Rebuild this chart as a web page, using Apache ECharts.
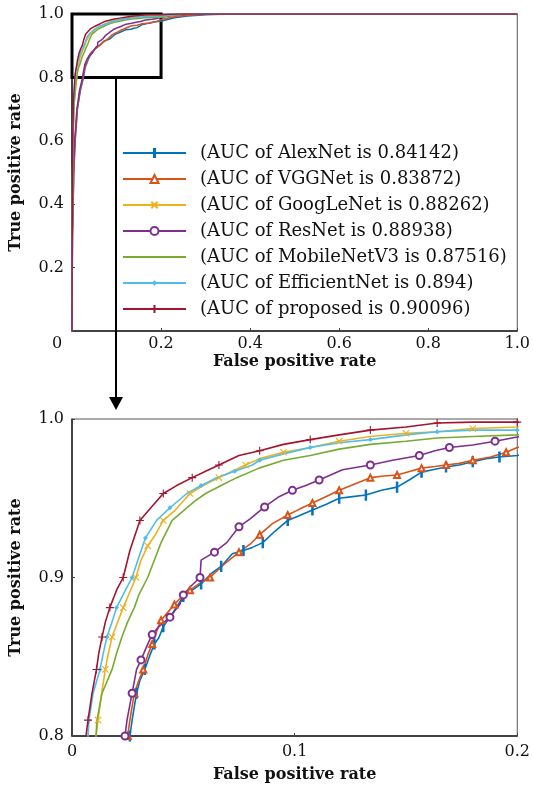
<!DOCTYPE html>
<html>
<head>
<meta charset="utf-8">
<script src="https://cdn.jsdelivr.net/npm/echarts@6/dist/echarts.min.js"></script>
<style>
  html, body { margin: 0; padding: 0; background: #fff; }
  #chart { width: 533px; height: 789px; }
</style>
</head>
<body>
<div id="chart"></div>
<script>
// ROC points [fpr, tpr]
const alexnet = [[0,0],[0.001,0.3],[0.004,0.5],[0.007,0.6],[0.012,0.7],[0.019,0.76],[0.026,0.8],[0.027,0.81],[0.029,0.827],[0.0305,0.835],[0.0327,0.842],[0.035,0.851],[0.037,0.858],[0.039,0.862],[0.041,0.869],[0.045,0.877],[0.05,0.888],[0.055,0.893],[0.058,0.896],[0.063,0.903],[0.067,0.907],[0.072,0.915],[0.077,0.917],[0.081,0.919],[0.0857,0.922],[0.091,0.929],[0.0969,0.936],[0.102,0.939],[0.108,0.9426],[0.114,0.946],[0.12,0.95],[0.126,0.951],[0.132,0.952],[0.139,0.955],[0.146,0.957],[0.152,0.962],[0.157,0.9665],[0.162,0.968],[0.168,0.9697],[0.174,0.971],[0.18,0.973],[0.186,0.975],[0.192,0.976],[0.2,0.977],[0.21,0.981],[0.23,0.988],[0.26,0.994],[0.3,0.998],[0.35,1],[1,1]];
const vggnet = [[0,0],[0.001,0.3],[0.004,0.5],[0.007,0.6],[0.012,0.7],[0.018,0.76],[0.025,0.8],[0.026,0.81],[0.028,0.827],[0.03,0.835],[0.032,0.842],[0.034,0.851],[0.036,0.858],[0.038,0.866],[0.04,0.873],[0.043,0.878],[0.046,0.883],[0.05,0.889],[0.053,0.892],[0.057,0.896],[0.062,0.9],[0.068,0.908],[0.075,0.916],[0.08,0.921],[0.0843,0.927],[0.09,0.934],[0.0969,0.9394],[0.102,0.943],[0.108,0.947],[0.114,0.951],[0.12,0.955],[0.127,0.959],[0.134,0.963],[0.14,0.964],[0.146,0.9647],[0.152,0.967],[0.157,0.969],[0.163,0.97],[0.168,0.971],[0.174,0.972],[0.18,0.974],[0.188,0.976],[0.195,0.979],[0.2,0.982],[0.21,0.986],[0.23,0.991],[0.26,0.996],[0.3,0.999],[0.35,1],[1,1]];
const googlenet = [[0,0],[0.0005,0.3],[0.002,0.6],[0.005,0.72],[0.009,0.78],[0.0108,0.8],[0.0117,0.81],[0.0133,0.827],[0.015,0.842],[0.016,0.85],[0.018,0.8625],[0.02,0.87],[0.023,0.881],[0.026,0.891],[0.0287,0.9],[0.031,0.911],[0.034,0.92],[0.037,0.926],[0.041,0.936],[0.046,0.942],[0.053,0.953],[0.059,0.958],[0.066,0.963],[0.072,0.967],[0.078,0.971],[0.0843,0.975],[0.095,0.979],[0.107,0.982],[0.12,0.986],[0.134,0.989],[0.15,0.991],[0.164,0.992],[0.18,0.994],[0.2,0.995],[0.22,0.998],[0.25,1],[1,1]];
const resnet = [[0,0],[0.0008,0.3],[0.003,0.5],[0.006,0.6],[0.011,0.7],[0.017,0.76],[0.0238,0.8],[0.0247,0.81],[0.027,0.827],[0.029,0.842],[0.031,0.848],[0.034,0.858],[0.036,0.864],[0.039,0.869],[0.044,0.875],[0.0484,0.883],[0.05,0.889],[0.053,0.894],[0.0575,0.9],[0.058,0.911],[0.064,0.916],[0.0695,0.922],[0.075,0.932],[0.08,0.937],[0.0865,0.9445],[0.093,0.951],[0.099,0.955],[0.105,0.958],[0.111,0.9615],[0.1215,0.968],[0.134,0.971],[0.144,0.974],[0.156,0.977],[0.163,0.98],[0.1695,0.982],[0.18,0.9836],[0.19,0.986],[0.2,0.9886],[0.21,0.992],[0.23,0.996],[0.26,0.999],[0.3,1],[1,1]];
const mobilenet = [[0,0],[0.0005,0.3],[0.002,0.6],[0.005,0.72],[0.009,0.78],[0.0108,0.8],[0.0112,0.81],[0.0135,0.827],[0.018,0.842],[0.02,0.852],[0.0224,0.8625],[0.025,0.872],[0.028,0.881],[0.03,0.889],[0.034,0.9],[0.037,0.911],[0.04,0.922],[0.045,0.936],[0.05,0.942],[0.055,0.948],[0.06,0.953],[0.067,0.958],[0.074,0.963],[0.084,0.969],[0.095,0.974],[0.107,0.977],[0.12,0.981],[0.134,0.984],[0.15,0.986],[0.164,0.988],[0.18,0.989],[0.2,0.99],[0.22,0.995],[0.25,0.999],[0.28,1],[1,1]];
const efficientnet = [[0,0],[0.0005,0.3],[0.002,0.6],[0.004,0.72],[0.0065,0.78],[0.0072,0.8],[0.0076,0.81],[0.0095,0.827],[0.0126,0.842],[0.014,0.852],[0.0157,0.8625],[0.018,0.872],[0.02,0.881],[0.024,0.892],[0.027,0.9],[0.0296,0.911],[0.033,0.925],[0.038,0.936],[0.044,0.944],[0.0516,0.953],[0.058,0.958],[0.065,0.963],[0.073,0.967],[0.081,0.971],[0.0843,0.974],[0.095,0.978],[0.107,0.982],[0.12,0.985],[0.134,0.987],[0.15,0.99],[0.164,0.992],[0.18,0.993],[0.2,0.993],[0.22,0.997],[0.25,1],[1,1]];
const proposed = [[0,0],[0.0003,0.3],[0.0015,0.6],[0.003,0.72],[0.0055,0.78],[0.0063,0.8],[0.0072,0.81],[0.009,0.827],[0.011,0.842],[0.012,0.852],[0.0135,0.8625],[0.015,0.872],[0.017,0.881],[0.02,0.892],[0.023,0.9],[0.026,0.917],[0.0305,0.936],[0.036,0.945],[0.041,0.953],[0.047,0.958],[0.054,0.963],[0.06,0.967],[0.066,0.971],[0.075,0.977],[0.0843,0.98],[0.095,0.984],[0.107,0.987],[0.12,0.99],[0.134,0.993],[0.15,0.995],[0.164,0.9975],[0.18,0.998],[0.2,0.998],[0.22,0.999],[0.24,1],[1,1]];

const seriesData = [alexnet, vggnet, googlenet, resnet, mobilenet, efficientnet, proposed];
const names = [
  '(AUC of AlexNet is 0.84142)',
  '(AUC of VGGNet is 0.83872)',
  '(AUC of GoogLeNet is 0.88262)',
  '(AUC of ResNet is 0.88938)',
  '(AUC of MobileNetV3 is 0.87516)',
  '(AUC of EfficientNet is 0.894)',
  '(AUC of proposed is 0.90096)'
];
const colors = ['#0072BD', '#D95319', '#EDB120', '#7E2F8E', '#77AC30', '#4DBEEE', '#A2142F'];
const topXTicks = [0, 0.2, 0.4, 0.6, 0.8, 1.0];
const zoomXTicks = [0, 0.1, 0.2];
const zoomYTicks = [0.8, 0.9, 1.0];

const FONT = 'DejaVu Serif';
const INK = '#111';

// matlab-ish markers; the empty M..L pairs pin every path to a 10x10 box
const BOX = ' M0,0L0,0 M10,10L10,10';
const markers = [
  { symbol: 'path://M4.3,0L5.7,0L5.7,10L4.3,10Z' + BOX, size: 10 },
  { symbol: 'emptyTriangle', size: 6 },
  { symbol: 'path://M1,1L9,9M9,1L1,9' + BOX, size: 8 },
  { symbol: 'emptyCircle', size: 7 },
  { symbol: 'none', size: 0 },
  { symbol: 'path://M5,3.3L6.7,5L5,6.7L3.3,5Z' + BOX, size: 10 },
  { symbol: 'path://M5,0L5,10M0,5L10,5' + BOX, size: 8 }
];

const chart = echarts.init(document.getElementById('chart'));

function valueAxis(gridIndex, min, max, interval, extra) {
  return Object.assign({
    gridIndex: gridIndex,
    type: 'value',
    min: min,
    max: max,
    interval: interval,
    splitLine: { show: false },
    axisLine: { show: true, onZero: false, lineStyle: { color: '#222', width: 1.5 } },
    axisTick: { show: true, inside: true, length: 3, lineStyle: { color: '#444' } },
    nameLocation: 'middle',
    nameTextStyle: { fontFamily: FONT, fontWeight: 'bold', fontSize: 16, color: INK }
  }, extra);
}

const labelBase = { fontFamily: FONT, fontSize: 16, color: INK };

const series = [];
// zoomed (bottom) series first so the legend takes its markers
seriesData.forEach((data, i) => {
  const m = markers[i];
  series.push({
    name: names[i],
    type: 'line',
    xAxisIndex: 1,
    yAxisIndex: 1,
    data: data,
    clip: true,
    symbol: m.symbol,
    symbolSize: (v, p) => (p.dataIndex % 2 === 0 ? m.size : 0),
    showSymbol: m.symbol !== 'none',
    lineStyle: { color: colors[i], width: 1.6 },
    itemStyle: { color: colors[i], borderColor: colors[i], borderWidth: 1.1 },
    emphasis: { disabled: true },
    animation: false
  });
});
seriesData.forEach((data, i) => {
  const s = {
    name: names[i],
    type: 'line',
    xAxisIndex: 0,
    yAxisIndex: 0,
    data: data,
    clip: true,
    showSymbol: false,
    lineStyle: { color: colors[i], width: 1.5 },
    itemStyle: { color: colors[i] },
    emphasis: { disabled: true },
    animation: false
  };
  if (i === seriesData.length - 1) {
    // the zoom window drawn on the overview
    s.markArea = {
      silent: true,
      label: { show: false },
      itemStyle: { color: 'rgba(0,0,0,0)', borderColor: '#000', borderWidth: 3 },
      data: [[{ coord: [zoomXTicks[0], zoomYTicks[0]] }, { coord: [zoomXTicks[2], zoomYTicks[2]] }]]
    };
  }
  series.push(s);
});

chart.setOption({
  animation: false,
  color: colors,
  grid: [
    { left: 72, top: 14, width: 446, height: 317, show: true, borderColor: '#555', borderWidth: 1, backgroundColor: '#fff' },
    { left: 72, top: 419, width: 446, height: 317, show: true, borderColor: '#555', borderWidth: 1, backgroundColor: '#fff' }
  ],
  legend: {
    data: names.map((n, i) => (markers[i].symbol === 'none'
      ? { name: n, itemStyle: { opacity: 0 } }
      : { name: n })),
    orient: 'vertical',
    left: 117,
    top: 139,
    itemWidth: 63,
    itemHeight: 10,
    itemGap: 8,
    selectedMode: false,
    textStyle: { fontFamily: FONT, fontSize: 18, color: INK, padding: [0, 0, 0, 9] }
  },
  xAxis: [
    valueAxis(0, topXTicks[0], topXTicks[5], 0.2, {
      name: 'False positive rate',
      nameGap: 23,
      axisLabel: Object.assign({}, labelBase, {
        margin: 5,
        formatter: v => (v === 0 ? '{z|0}' : v.toFixed(1)),
        rich: { z: Object.assign({}, labelBase, { padding: [0, 30, 0, 0] }) }
      })
    }),
    valueAxis(1, zoomXTicks[0], zoomXTicks[2], 0.1, {
      name: 'False positive rate',
      nameGap: 31,
      axisLabel: Object.assign({}, labelBase, {
        margin: 8,
        formatter: v => (v === 0 ? '0' : v.toFixed(1))
      })
    })
  ],
  yAxis: [
    valueAxis(0, 0, 1, 0.2, {
      name: 'True positive rate',
      nameGap: 48,
      axisLabel: Object.assign({}, labelBase, {
        margin: 8,
        formatter: v => (v === 0 ? '' : v.toFixed(1))
      })
    }),
    valueAxis(1, zoomYTicks[0], zoomYTicks[2], 0.1, {
      name: 'True positive rate',
      nameGap: 48,
      axisLabel: Object.assign({}, labelBase, {
        margin: 8,
        formatter: v => v.toFixed(1)
      })
    })
  ],
  series: series
});

// arrow from the zoom window down to the zoomed plot
const from = chart.convertToPixel({ xAxisIndex: 0, yAxisIndex: 0 }, [0.1, zoomYTicks[0]]);
const to = chart.convertToPixel({ xAxisIndex: 1, yAxisIndex: 1 }, [0.1, zoomYTicks[2]]);
const ax = Math.round(from[0]) - 1;
const tipY = to[1] - 9;
chart.setOption({
  graphic: [
    {
      type: 'line',
      z: 100,
      shape: { x1: ax, y1: from[1] + 1, x2: ax, y2: tipY - 10 },
      style: { stroke: '#000', lineWidth: 2 }
    },
    {
      type: 'polygon',
      z: 100,
      shape: { points: [[ax - 7, tipY - 13], [ax + 7, tipY - 13], [ax, tipY]] },
      style: { fill: '#000' }
    }
  ]
});
</script>
</body>
</html>
